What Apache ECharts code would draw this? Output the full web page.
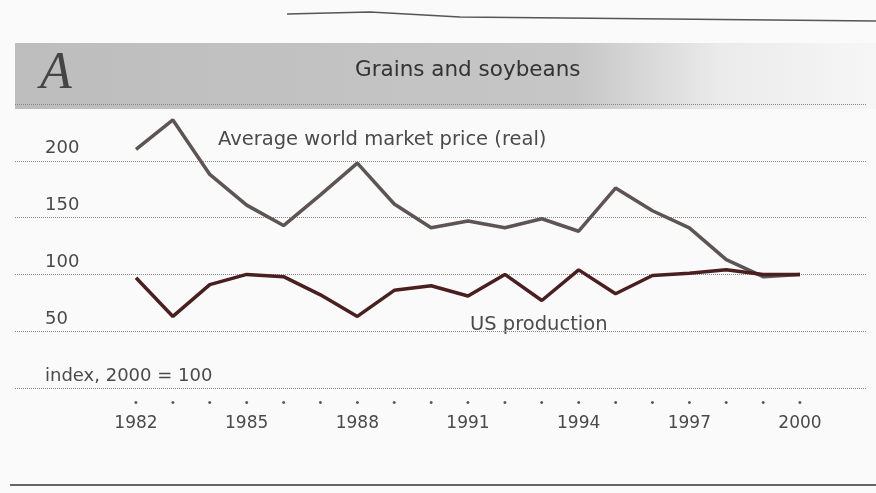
<!DOCTYPE html>
<html lang="en">
<head>
  <meta charset="utf-8">
  <style>
    html, body { margin: 0; height: 100%; background: #fafafa; }
    #chart { width: 876px; height: 493px; }
  </style>
</head>
<body>
  <div id="chart"></div>
  <script src="https://cdn.jsdelivr.net/npm/echarts@6/dist/echarts.min.js"></script>
  <script>
    // years on the x axis
    const years = ['1982', '1983', '1984', '1985', '1986', '1987', '1988', '1989', '1990',
      '1991', '1992', '1993', '1994', '1995', '1996', '1997', '1998', '1999', '2000'];
    // average world market price (real), index 2000 = 100
    const priceData = [210, 236, 188, 161, 143, 170, 198, 162, 141,
      147, 141, 149, 138, 176, 156, 141, 113, 98, 100];
    // US production, index 2000 = 100
    const productionData = [97, 63, 91, 100, 98, 82, 63, 86, 90,
      81, 100, 77, 104, 83, 99, 101, 104, 100, 100];
    const yTicks = [0, 50, 100, 150, 200, 250];

    const font = '"DejaVu Sans", sans-serif';
    const myChart = echarts.init(document.getElementById('chart'), null, { renderer: 'canvas' });

    const option = {
      backgroundColor: '#fafafa',
      animation: false,
      graphic: [
        // title band
        {
          type: 'rect', left: 15, top: 43,
          shape: { width: 861, height: 66 },
          style: {
            fill: new echarts.graphic.LinearGradient(0, 0, 1, 0, [
              { offset: 0, color: '#bdbdbd' },
              { offset: 0.65, color: '#c6c6c6' },
              { offset: 0.82, color: '#ebebeb' },
              { offset: 1, color: '#f6f6f6' }
            ])
          },
          z: -1
        },
        {
          type: 'text', left: 40, top: 48,
          style: { text: 'A', font: 'italic 52px "Liberation Serif", serif', fill: '#444' }
        },
        {
          type: 'text', left: 355, top: 59,
          style: { text: 'Grains and soybeans', font: '21.5px ' + font, fill: '#333' }
        },
        // scan rules top and bottom
        {
          type: 'polyline',
          shape: { points: [[287, 14], [370, 12], [460, 17], [876, 21]] },
          style: { stroke: '#555', lineWidth: 1.5, fill: null }
        },
        {
          type: 'line',
          shape: { x1: 10, y1: 485, x2: 876, y2: 485 },
          style: { stroke: '#666', lineWidth: 2 }
        },
        // series labels
        {
          type: 'text', left: 218, top: 130,
          style: { text: 'Average world market price (real)', font: '19.5px ' + font, fill: '#4a4a4a' }
        },
        {
          type: 'text', left: 470, top: 315,
          style: { text: 'US production', font: '19.5px ' + font, fill: '#4a4a4a' }
        }
      ],
      grid: [
        { left: 15, right: 10, top: 104, bottom: 105 },
        { left: 136, right: 76, top: 104, bottom: 105 }
      ],
      xAxis: [
        { gridIndex: 0, type: 'value', show: false, min: 0, max: 1 },
        {
          gridIndex: 1, type: 'category', data: years, boundaryGap: false,
          axisLine: { show: false }, axisTick: { show: false },
          axisLabel: { interval: 0, margin: 9, formatter: () => '•', fontSize: 11, color: '#555' }
        },
        {
          gridIndex: 1, type: 'category', data: years, boundaryGap: false, position: 'bottom',
          axisLine: { show: false }, axisTick: { show: false },
          axisLabel: { interval: 2, margin: 27, fontSize: 17, fontFamily: font, color: '#4a4a4a' }
        }
      ],
      yAxis: [
        {
          gridIndex: 0, type: 'value', min: yTicks[0], max: yTicks[yTicks.length - 1], interval: 50,
          axisLine: { show: false }, axisTick: { show: false },
          splitLine: { lineStyle: { type: 'dotted', color: '#888', width: 1 } },
          axisLabel: {
            inside: true, margin: 30, verticalAlign: 'bottom', padding: [0, 0, 3, 0],
            fontSize: 18, fontFamily: font, color: '#4a4a4a',
            formatter: v => v === 0 ? 'index, 2000 = 100' : (v === 250 ? '' : String(v))
          }
        },
        { gridIndex: 1, type: 'value', min: 0, max: 250, show: false }
      ],
      series: [
        {
          name: 'Average world market price (real)', type: 'line',
          xAxisIndex: 1, yAxisIndex: 1, data: priceData,
          symbol: 'none', lineStyle: { color: '#5e5454', width: 3.5 }, z: 3
        },
        {
          name: 'US production', type: 'line',
          xAxisIndex: 1, yAxisIndex: 1, data: productionData,
          symbol: 'none', lineStyle: { color: '#4a1f1f', width: 3.5 }, z: 4
        }
      ]
    };
    myChart.setOption(option);
  </script>
</body>
</html>
